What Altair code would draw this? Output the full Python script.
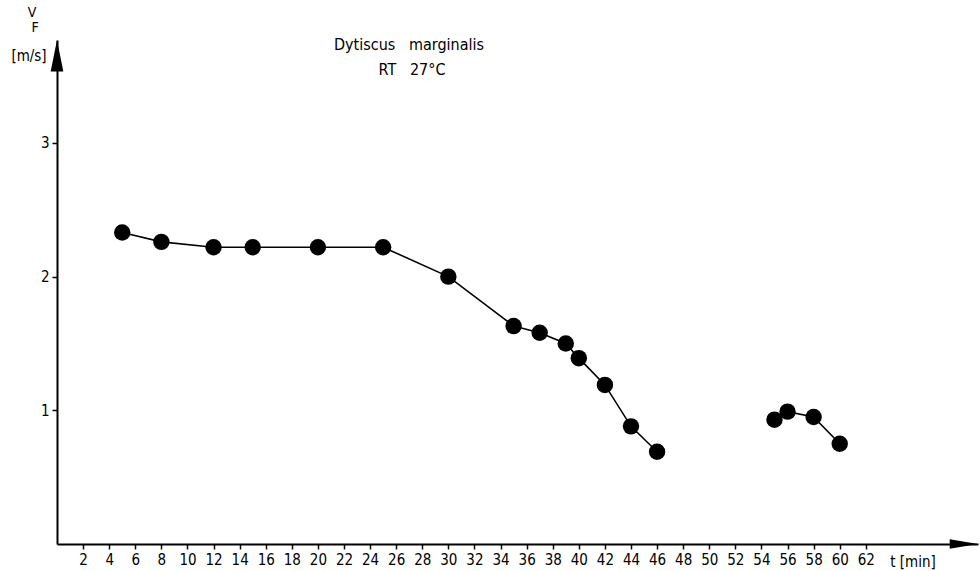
import altair as alt
import pandas as pd

# ---- data ----
t_min = [5, 8, 12, 15, 20, 25, 30, 35, 37, 39, 40, 42, 44, 46, 55, 56, 58, 60]
v_f = [2.33, 2.26, 2.22, 2.22, 2.22, 2.22, 2.0, 1.63, 1.58, 1.50, 1.39, 1.19,
       0.88, 0.69, 0.93, 0.99, 0.95, 0.75]
segment = ["a", "a", "a", "a", "a", "a", "a", "a", "a", "a", "a", "a", "a", "a",
           "b", "b", "b", "b"]
x_ticks = list(range(2, 64, 2))
y_ticks = [1, 2, 3]

X_MAX = 70.6
Y_MAX = 3.77

FONT = "'DejaVu Sans Condensed', 'Liberation Sans Narrow', 'DejaVu Sans', sans-serif"
NB = "\u00a0"

df = pd.DataFrame({"t": t_min, "v": v_f, "seg": segment})

xs = alt.Scale(domain=[0, X_MAX], nice=False, zero=False)
ys = alt.Scale(domain=[0, Y_MAX], nice=False, zero=False)

AX_X = alt.Axis(values=x_ticks, title=None, grid=False, tickSize=5,
                labelPadding=3, labelFontSize=15, labelFont=FONT,
                labelColor="black", domainWidth=2, domainColor="black",
                tickColor="black", tickWidth=1.5, labelFlush=False,
                labelOverlap=False, format="d")
AX_Y = alt.Axis(values=y_ticks, title=None, grid=False, tickSize=5,
                labelPadding=3, labelFontSize=15, labelFont=FONT,
                labelColor="black", domainWidth=2, domainColor="black",
                tickColor="black", tickWidth=1.5, labelFlush=False,
                labelOverlap=False, format="d")


def enc(chart):
    return chart.encode(
        x=alt.X("t:Q", scale=xs, axis=AX_X),
        y=alt.Y("v:Q", scale=ys, axis=AX_Y),
    )


base = enc(alt.Chart(df))
lines = base.mark_line(color="black", strokeWidth=1.6).encode(detail="seg:N")
points = base.mark_point(filled=True, color="black", opacity=1, size=270)

# axis arrow heads placed at the ends of the axis domains
arrow_df_y = pd.DataFrame({"t": [0], "v": [Y_MAX]})
arrow_df_x = pd.DataFrame({"t": [X_MAX], "v": [0]})
arrow_y = enc(alt.Chart(arrow_df_y).mark_point(
    shape="M0,0L0.4,2L-0.4,2Z", filled=True, color="black", opacity=1, size=1000))
arrow_x = enc(alt.Chart(arrow_df_x).mark_point(
    shape="M0,0L-2,-0.33L-2,0.33Z", filled=True, color="black", opacity=1, size=800))


def label(text, px, py, size=15, align="center"):
    return alt.Chart(alt.Data(values=[{}])).mark_text(
        text=text, font=FONT, fontSize=size, color="black",
        align=align, baseline="middle"
    ).encode(x=alt.value(px), y=alt.value(py))


texts = [
    label(f"Dytiscus{NB}{NB}{NB}marginalis", 352, 5, 16),
    label(f"RT{NB}{NB}{NB}27°C", 355, 30, 16),
    label("V", -25, -27, 14),
    label("F", -22, -12, 14),
    label("[m/s]", -28, 16, 15),
    label("t [min]", 856, 522, 15),
]

chart = alt.layer(lines, points, arrow_y, arrow_x, *texts).properties(
    width=921, height=504,
    autosize=alt.AutoSizeParams(type="none"),
    padding={"left": 57, "top": 40, "right": 2, "bottom": 27},
    background="white",
).configure_view(stroke=None)

chart.save("out.html", embed_options={"renderer": "svg", "actions": False})
